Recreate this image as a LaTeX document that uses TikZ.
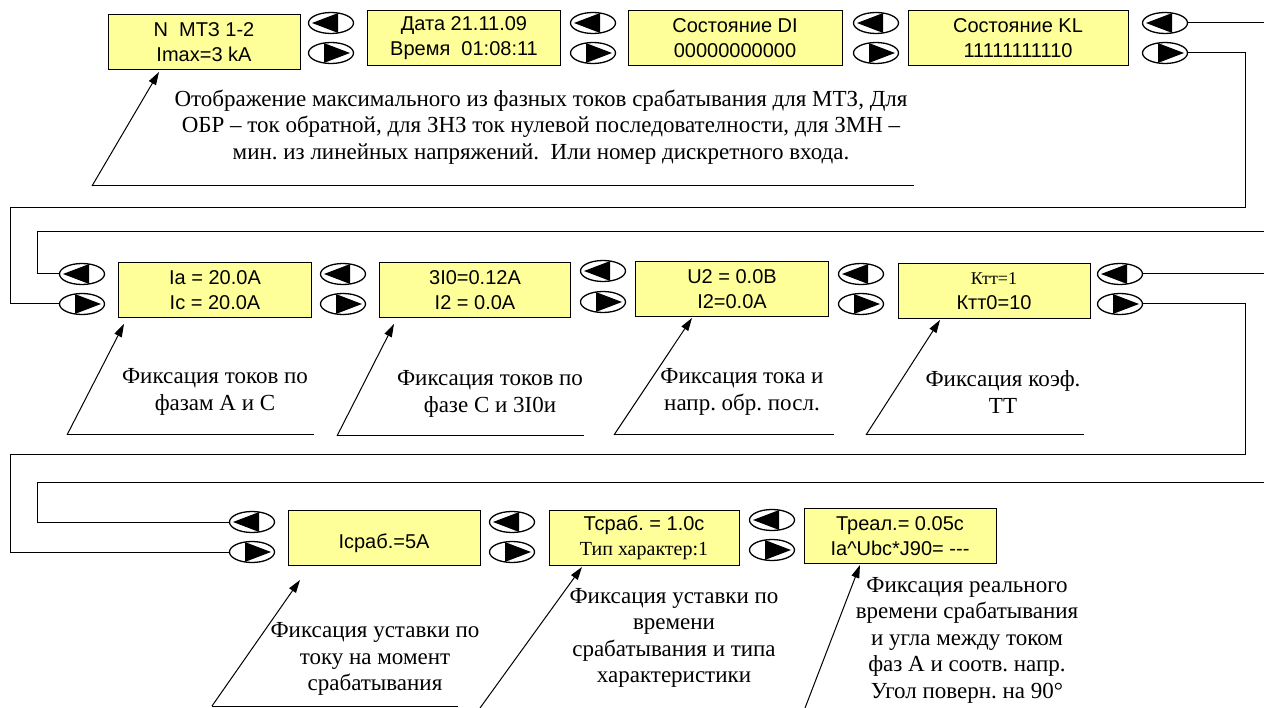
\documentclass[tikz,border=0pt]{standalone}
\usepackage{fontspec}
\setmainfont{Liberation Serif}
\setsansfont{Liberation Sans}
\usetikzlibrary{positioning,arrows.meta,shapes.geometric}
\definecolor{lcdyellow}{HTML}{FFFF99}
\frenchspacing

\tikzset{
  key/.style={ellipse, draw, line width=1.3pt, fill=white,
    minimum width=45pt, minimum height=21pt, inner sep=0pt}
}

\begin{document}
\begin{tikzpicture}[x=1pt, y=-1pt,
  lcd/.style={draw, fill=lcdyellow, line width=0.9pt,
    minimum width=#1, minimum height=55pt, inner sep=0pt, align=center,
    font=\sffamily\fontsize{20}{25}\selectfont},
  note/.style={align=center, inner sep=0pt, font=\fontsize{23}{26.5}\selectfont},
  lead/.style={line width=1pt},
  pointer/.style={line width=1pt, -{Triangle[length=13pt,width=8pt]}}
]
\useasboundingbox (0,0) rectangle (1264,708);

% row 1
\node[lcd=192pt] (mtz) at (204,42) {N\ \ МТЗ 1-2\\Imax=3 kA};
\node[key] (back1) at (331,23) {};
\node[key] (fwd1) at (331,53) {};
\node[lcd=193pt] (date) at (464,38) {Дата 21.11.09\\Время\ \ 01:08:11};
\node[key] (back2) at (593,23) {};
\node[key] (fwd2) at (593,53) {};
\node[lcd=214pt] (di) at (735,38) {Состояние DI\\00000000000};
\node[key] (back3) at (876,23) {};
\node[key] (fwd3) at (876,53) {};
\node[lcd=220pt] (kl) at (1018,38) {Состояние KL\\11111111110};
\node[key] (back4) at (1165,23) {};
\node[key] (fwd4) at (1165,53) {};

% row 2
\node[key] (back5) at (82,274) {};
\node[key] (fwd5) at (82,304) {};
\node[lcd=193pt] (iac) at (215,290) {Ia = 20.0A\\Ic = 20.0A};
\node[key] (back6) at (343,274) {};
\node[key] (fwd6) at (343,304) {};
\node[lcd=191pt] (izero) at (475,290) {3I0=0.12A\\I2 = 0.0A};
\node[key] (back7) at (603,271) {};
\node[key] (fwd7) at (603,302) {};
\node[lcd=193pt] (utwo) at (732,289) {U2 = 0.0В\\I2=0.0A};
\node[key] (back8) at (861,274) {};
\node[key] (fwd8) at (861,304) {};
\node[lcd=192pt] (ktt) at (994,291) {{\rmfamily\fontsize{18}{25}\selectfont Ктт=1}\\Ктт0=10};
\node[key] (back9) at (1120,274) {};
\node[key] (fwd9) at (1120,304) {};

% row 3
\node[key] (back10) at (252,522) {};
\node[key] (fwd10) at (252,552) {};
\node[lcd=192pt] (iset) at (384,538) {\mbox{}\\Icраб.=5A};
\node[key] (back11) at (512,522) {};
\node[key] (fwd11) at (512,552) {};
\node[lcd=190pt] (tset) at (644,538) {Тсраб. = 1.0с\\{\rmfamily Тип характер:1}};
\node[key] (back12) at (772,520) {};
\node[key] (fwd12) at (772,550) {};
\node[lcd=192pt] (treal) at (900,536) {Треал.= 0.05с\\Ia\textasciicircum Ubc*J90= {-}{-}{-}};

% arrow marks inside the keys
\foreach \k in {back1,back2,back3,back4,back5,back6,back7,back8,back9,back10,back11,back12}
  \fill ([xshift=-19pt]\k.center) -- ([xshift=7pt,yshift=9.9pt]\k.center)
    -- ([xshift=7pt,yshift=-9.9pt]\k.center) -- cycle;
\foreach \k in {fwd1,fwd2,fwd3,fwd4,fwd5,fwd6,fwd7,fwd8,fwd9,fwd10,fwd11,fwd12}
  \fill ([xshift=19pt]\k.center) -- ([xshift=-7pt,yshift=9.9pt]\k.center)
    -- ([xshift=-7pt,yshift=-9.9pt]\k.center) -- cycle;

% loops between the rows
\coordinate (out1) at (1264,23);
\coordinate (turn1) at (1245,208);
\coordinate (turn2) at (10,208);
\coordinate (in1) at (1264,232);
\coordinate (in2) at (37,232);
\draw[lead] (back4.east) -- (out1);
\draw[lead] (fwd4.east) -| (turn1) -- (turn2) |- (fwd5.west);
\draw[lead] (in1) -- (in2) |- (back5.west);

\coordinate (out2) at (1264,274);
\coordinate (turn3) at (1245,454);
\coordinate (turn4) at (10,454);
\coordinate (in3) at (1264,482);
\coordinate (in4) at (37,482);
\draw[lead] (back9.east) -- (out2);
\draw[lead] (fwd9.east) -| (turn3) -- (turn4) |- (fwd10.west);
\draw[lead] (in3) -- (in4) |- (back10.west);

% callouts
\node[note] (txt0) at (541,127) {Отображение максимального из фазных токов срабатывания для МТЗ, Для\\
  ОБР – ток обратной, для ЗНЗ ток нулевой последователности, для ЗМН –\\
  мин. из линейных напряжений.\ \ Или номер дискретного входа.};
\coordinate (foot0) at (92,186);
\coordinate (end0) at (914,186);
\draw[lead] (foot0) -- (end0);
\draw[pointer] (foot0) -- ([xshift=-45pt,yshift=-2pt]mtz.south);

\node[note] (txt1) at (215,392) {Фиксация токов по\\фазам А и С};
\coordinate (foot1) at (67,435);
\coordinate (end1) at (314,435);
\draw[lead] (foot1) -- (end1);
\draw[pointer] (foot1) -- ([xshift=-91pt,yshift=-6pt]iac.south);

\node[note] (txt2) at (490,394) {Фиксация токов по\\фазе С и 3I0и};
\coordinate (foot2) at (337,436);
\coordinate (end2) at (584,436);
\draw[lead] (foot2) -- (end2);
\draw[pointer] (foot2) -- ([xshift=-81pt,yshift=-6pt]izero.south);

\node[note] (txt3) at (742,392) {Фиксация тока и\\напр. обр. посл.};
\coordinate (foot3) at (614,435);
\coordinate (end3) at (834,435);
\draw[lead] (foot3) -- (end3);
\draw[pointer] (foot3) -- ([xshift=-40pt,yshift=-1pt]utwo.south);

\node[note] (txt4) at (1003,392) {Фиксация коэф.\\ТТ};
\coordinate (foot4) at (866,435);
\coordinate (end4) at (1084,435);
\draw[lead] (foot4) -- (end4);
\draw[pointer] (foot4) -- ([xshift=-54pt,yshift=-1pt]ktt.south);

\node[note] (txt5) at (375,659) {Фиксация уставки по\\току на момент\\срабатывания};
\coordinate (foot5) at (212,706);
\coordinate (end5) at (458,706);
\draw[lead] (foot5) -- (end5);
\draw[pointer] (foot5) -- ([xshift=-84pt,yshift=-14pt]iset.south);

\node[note] (txt6) at (674,638) {Фиксация уставки по\\времени\\срабатывания и типа\\характеристики};
\coordinate (foot6) at (480,708);
\draw[pointer] (foot6) -- ([xshift=-62pt,yshift=-1pt]tset.south);

\node[note] (txt7) at (967,640) {Фиксация реального\\времени срабатывания\\и угла между током\\фаз А и соотв. напр.\\Угол поверн. на 90°};
\coordinate (foot7) at (805,708);
\draw[pointer] (foot7) -- ([xshift=-40pt,yshift=-1pt]treal.south);
\end{tikzpicture}
\end{document}
